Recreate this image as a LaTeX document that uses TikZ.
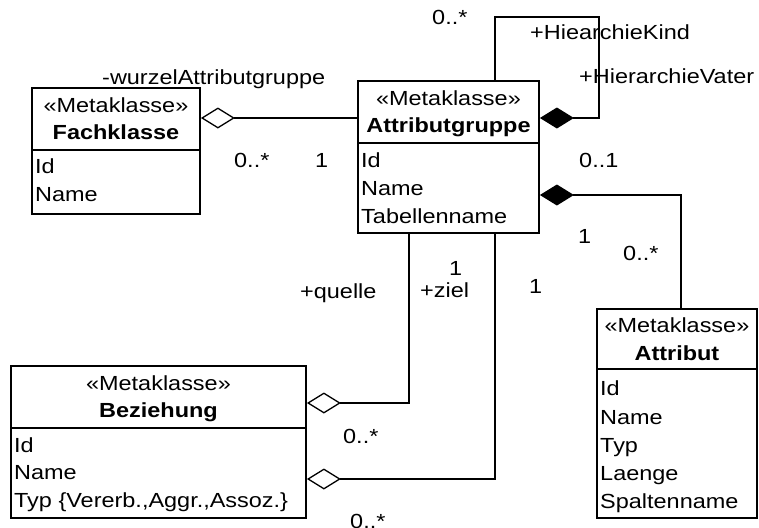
\documentclass[tikz,border=0pt]{standalone}
\usepackage{fontspec}
\setmainfont{Liberation Sans}[FakeStretch=1.15]
\usetikzlibrary{arrows.meta,calc}
\begin{document}
\begin{tikzpicture}[x=1pt,y=-1pt,
  font=\fontsize{20.4}{24}\selectfont,
  box/.style={draw, line width=1.9pt, inner sep=0pt, anchor=north west},
  rule/.style={line width=1.9pt},
  txt/.style={inner sep=0pt, anchor=base west},
  ctxt/.style={inner sep=0pt, anchor=base},
  link/.style={line width=1.3pt},
  agg/.style={link, {Diamond[open, length=34pt, width=21pt]}-},
  comp/.style={link, {Diamond[length=34pt, width=21pt]}-},
]
\useasboundingbox (0,0) rectangle (759,527);

% ---- class boxes ----
\node[box, minimum width=168pt, minimum height=126pt] (fach)   at (31,87)  {};
\node[box, minimum width=181pt, minimum height=152pt] (attr)   at (357,80) {};
\node[box, minimum width=295pt, minimum height=152pt] (bez)    at (10,365) {};
\node[box, minimum width=160pt, minimum height=209pt] (attrib) at (596,308) {};

% compartment rules
\draw[rule] ($(fach.north west)+(0,63)$)   -- ($(fach.north east)+(0,63)$);
\draw[rule] ($(attr.north west)+(0,63)$)   -- ($(attr.north east)+(0,63)$);
\draw[rule] ($(bez.north west)+(0,63)$)    -- ($(bez.north east)+(0,63)$);
\draw[rule] ($(attrib.north west)+(0,61)$) -- ($(attrib.north east)+(0,61)$);

% Fachklasse
\node[ctxt] (fachS) at ($(fach.north)+(0,25)$) {«Metaklasse»};
\node[ctxt] (fachN) at ($(fach.north)+(0,52.5)$) {\bfseries Fachklasse};
\node[txt] (fachA1) at (35,173.5) {Id};
\node[txt] (fachA2) at (35,201) {Name};

% Attributgruppe
\node[ctxt] (attrS) at ($(attr.north)+(0,25)$) {«Metaklasse»};
\node[ctxt] (attrN) at ($(attr.north)+(0,52.5)$) {\bfseries Attributgruppe};
\node[txt] (attrA1) at (361,167) {Id};
\node[txt] (attrA2) at (361,195) {Name};
\node[txt] (attrA3) at (361,223) {Tabellenname};

% Beziehung
\node[ctxt] (bezS) at ($(bez.north)+(0,25)$) {«Metaklasse»};
\node[ctxt] (bezN) at ($(bez.north)+(0,52.5)$) {\bfseries Beziehung};
\node[txt] (bezA1) at (14,452) {Id};
\node[txt] (bezA2) at (14,479) {Name};
\node[txt] (bezA3) at (14,507) {Typ \{Vererb.,Aggr.,Assoz.\}};

% Attribut
\node[ctxt] (attribS) at ($(attrib.north)+(0,24)$) {«Metaklasse»};
\node[ctxt] (attribN) at ($(attrib.north)+(0,52)$) {\bfseries Attribut};
\node[txt] (attribA1) at (600,395) {Id};
\node[txt] (attribA2) at (600,424) {Name};
\node[txt] (attribA3) at (600,452) {Typ};
\node[txt] (attribA4) at (600,480) {Laenge};
\node[txt] (attribA5) at (600,508) {Spaltenname};

% ---- associations ----
\coordinate (loop) at (599,17);
\draw[agg]  ($(fach.north east)+(0,31)$) -- ($(attr.north west)+(0,38)$);
\draw[comp] ($(attr.north east)+(0,38)$) -| (loop) -| ($(attr.north west)+(138,0)$);
\draw[comp] ($(attr.north east)+(0,115)$) -| ($(attrib.north west)+(85,0)$);
\draw[agg]  ($(bez.north east)+(0,38)$) -| ($(attr.south west)+(52,0)$);
\draw[agg]  ($(bez.north east)+(0,114)$) -| ($(attr.south west)+(138,0)$);

% role names and multiplicities
\node[txt] (lWurzel) at (102,84.5) {-wurzelAttributgruppe};
\node[txt] (mFach)   at (234,167) {0..*};
\node[txt] (mAttr)   at (315,167) {1};
\node[txt] (mKind)   at (432,25)  {0..*};
\node[txt] (lKind)   at (530,40)  {+HiearchieKind};
\node[txt] (lVater)  at (579,83)  {+HierarchieVater};
\node[txt] (mVater)  at (579,167) {0..1};
\node[txt] (mGrp)    at (578,243) {1};
\node[txt] (mAttrib) at (623,260) {0..*};
\node[txt] (lQuelle) at (300,298) {+quelle};
\node[txt] (lZiel)   at (420,297) {+ziel};
\node[txt] (mZiel)   at (449,275) {1};
\node[txt] (mQuelle) at (529,293) {1};
\node[txt] (mBezQ)   at (343,443) {0..*};
\node[txt] (mBezZ)   at (350,528) {0..*};
\end{tikzpicture}
\end{document}
